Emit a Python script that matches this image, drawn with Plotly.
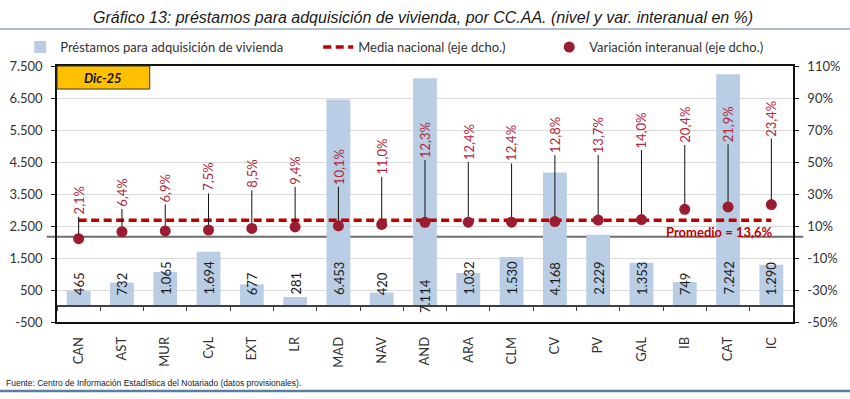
import plotly.graph_objects as go

# ---------------- data ----------------
regions = ["CAN", "AST", "MUR", "CyL", "EXT", "LR", "MAD", "NAV", "AND",
           "ARA", "CLM", "CV", "PV", "GAL", "IB", "CAT", "IC"]
loans = [465, 732, 1065, 1694, 677, 281, 6453, 420, 7114,
         1032, 1530, 4168, 2229, 1353, 749, 7242, 1290]
yoy_pct = [2.1, 6.4, 6.9, 7.5, 8.5, 9.4, 10.1, 11.0, 12.3,
           12.4, 12.4, 12.8, 13.7, 14.0, 20.4, 21.9, 23.4]
national_avg = 13.6
left_ticks = [-500, 500, 1500, 2500, 3500, 4500, 5500, 6500, 7500]
right_ticks = [-50, -30, -10, 10, 30, 50, 70, 90, 110]

# label placement (layout only): bottom of each rotated % label, in right-axis units
pct_label_base = [18.9, 23.8, 26.7, 33.6, 35.6, 37.7, 37.7, 43.9, 54.4,
                  53.3, 52.3, 57.5, 57.5, 60.6, 63.8, 64.2, 67.9]
bar_label_shift = [9, 9, 9, 9, 9, 9, 9, 9, -9, 9, 9, 9, 9, 9, 9, 9, 9]

# ---------------- styles ----------------
FONT = "Lato"
BAR_COLOR = "#B9CDE5"
DOT_COLOR = "#9B1B30"
AVG_COLOR = "#C00000"
LABEL_RED = "#B0283A"
TXT = "#333333"

def thousands(v):
    return f"{v:,}".replace(",", ".")

def pct(v):
    return f"{v:.1f}".replace(".", ",") + "%"

fig = go.Figure()

fig.add_trace(go.Bar(
    x=regions, y=loans, name="Préstamos para adquisición de vivienda",
    marker=dict(color=BAR_COLOR, line=dict(width=0)),
    xaxis="x", yaxis="y", hoverinfo="x+y", legendwidth=253,
))

# helper trace for the zero-line axis with boundary ticks
fig.add_trace(go.Scatter(
    x=regions, y=loans, xaxis="x3", yaxis="y", mode="markers",
    marker=dict(opacity=0), showlegend=False, hoverinfo="skip",
))

fig.add_trace(go.Scatter(
    x=regions, y=[national_avg] * len(regions), xaxis="x", yaxis="y2",
    mode="lines", name="Media nacional (eje dcho.)",
    line=dict(color=AVG_COLOR, width=3.5, dash="8px,4.5px"), legendwidth=186,
))

# leader lines from labels down to the dots
lx, ly = [], []
for r, v, b in zip(regions, yoy_pct, pct_label_base):
    lx += [r, r, None]
    ly += [v, b - 3.2, None]
fig.add_trace(go.Scatter(
    x=lx, y=ly, xaxis="x", yaxis="y2", mode="lines",
    line=dict(color="#111111", width=1), showlegend=False, hoverinfo="skip",
))

fig.add_trace(go.Scatter(
    x=regions, y=yoy_pct, xaxis="x", yaxis="y2", mode="markers",
    name="Variación interanual (eje dcho.)",
    marker=dict(color=DOT_COLOR, size=11, line=dict(width=0)),
))

annotations = []
# bar value labels
for r, v, s in zip(regions, loans, bar_label_shift):
    annotations.append(dict(
        x=r, y=0, xref="x", yref="y", text=thousands(v), showarrow=False,
        textangle=-90, yanchor="bottom", xanchor="center", yshift=s,
        font=dict(family=FONT, size=13, color="#1a1a1a"),
    ))
# % labels
for r, v, b in zip(regions, yoy_pct, pct_label_base):
    annotations.append(dict(
        x=r, y=b, xref="x", yref="y2", text=pct(v), showarrow=False,
        textangle=-90, yanchor="bottom", xanchor="center", yshift=-5,
        font=dict(family=FONT, size=13, color=LABEL_RED),
    ))
# promedio
annotations.append(dict(
    x=regions[-1], y=national_avg, xref="x", yref="y2",
    text="Promedio = " + pct(national_avg), showarrow=False,
    xanchor="right", yanchor="top", xshift=4, yshift=-2,
    font=dict(family=FONT, size=13, color=AVG_COLOR, weight="bold"),
))
# Dic-25 box label
annotations.append(dict(
    x=0.063, y=0.955, xref="paper", yref="paper", text="Dic-25",
    showarrow=False, xanchor="center", yanchor="middle",
    font=dict(family=FONT, size=13, color="#111111", weight="bold", style="italic"),
))
# title
annotations.append(dict(
    x=0.497, y=1.19, xref="paper", yref="paper",
    text="Gráfico 13: préstamos para adquisición de vivienda, por CC.AA. (nivel y var. interanual en %)",
    showarrow=False, xanchor="center", yanchor="middle",
    font=dict(family="Liberation Sans", size=16, color="#1a1a1a", style="italic"),
))
# source
annotations.append(dict(
    x=-0.072, y=-0.238, xref="paper", yref="paper",
    text="Fuente: Centro de Información Estadística del Notariado (datos provisionales).",
    showarrow=False, xanchor="left", yanchor="middle",
    font=dict(family="Liberation Sans", size=8.5, color="#1a1a1a"),
))

shapes = [
    # Dic-25 box
    dict(type="rect", xref="paper", yref="paper", x0=0, x1=0.126, y0=0.91, y1=1.0,
         fillcolor="#FFC000", line=dict(color="#333333", width=1), layer="above"),
    # dark reference line across the chart
    dict(type="line", xref="paper", yref="y2", x0=-0.014, x1=1.014, y0=3.3, y1=3.3,
         line=dict(color="#6e6e6e", width=2), layer="below"),
    # title rule
    dict(type="line", xref="paper", yref="paper", x0=-0.08, x1=1.08, y0=1.1445, y1=1.1445,
         line=dict(color="#5B7FA0", width=1)),
    # bottom rule
    dict(type="line", xref="paper", yref="paper", x0=-0.08, x1=1.08, y0=-0.2695, y1=-0.2695,
         line=dict(color="#5B7FA0", width=2.5)),
]

fig.update_layout(
    width=850, height=399,
    margin=dict(l=57, r=57, t=66, b=77, autoexpand=False),
    paper_bgcolor="white", plot_bgcolor="white",
    font=dict(family=FONT, size=13, color=TXT),
    bargap=0.45,
    showlegend=True,
    legend=dict(orientation="h", x=-0.05, y=1.074, xanchor="left", yanchor="middle",
                font=dict(family=FONT, size=13, color=TXT), bgcolor="rgba(0,0,0,0)",
                traceorder="normal"),
    xaxis=dict(type="category", categoryarray=regions, range=[-0.5, len(regions) - 0.5],
               showline=True, mirror=True, linecolor="#111111", linewidth=1.5,
               ticks="", tickangle=-90, ticklabelstandoff=8, automargin=False,
               tickfont=dict(family=FONT, size=13, color=TXT), showgrid=False),
    xaxis3=dict(type="category", categoryarray=regions, range=[-0.5, len(regions) - 0.5],
                overlaying="x", anchor="free", position=0.0625, automargin=False,
                showline=True, linecolor="#404040", linewidth=1.5,
                ticks="outside", tickson="boundaries", ticklen=4, tickcolor="#404040",
                showticklabels=False, showgrid=False),
    yaxis=dict(range=[-500, 7500], tickmode="array", tickvals=left_ticks,
               ticktext=[thousands(v) for v in left_ticks], automargin=False,
               showline=True, linecolor="#111111", linewidth=1.5,
               ticks="outside", ticklen=4, tickcolor="#111111", ticklabelstandoff=6,
               showgrid=True, gridcolor="#D9D9D9", gridwidth=1, zeroline=False,
               tickfont=dict(family=FONT, size=13, color=TXT)),
    yaxis2=dict(range=[-50, 110], tickmode="array", tickvals=right_ticks,
                ticktext=[f"{v}%" for v in right_ticks], automargin=False,
                overlaying="y", side="right", anchor="x",
                showline=True, linecolor="#111111", linewidth=1.5,
                ticks="outside", ticklen=4, tickcolor="#111111", ticklabelstandoff=6,
                showgrid=False, zeroline=False,
                tickfont=dict(family=FONT, size=13, color=TXT)),
    annotations=annotations,
    shapes=shapes,
)

fig.write_html("out.html", config={"displayModeBar": False},
               post_script="document.body.style.margin='0';")
